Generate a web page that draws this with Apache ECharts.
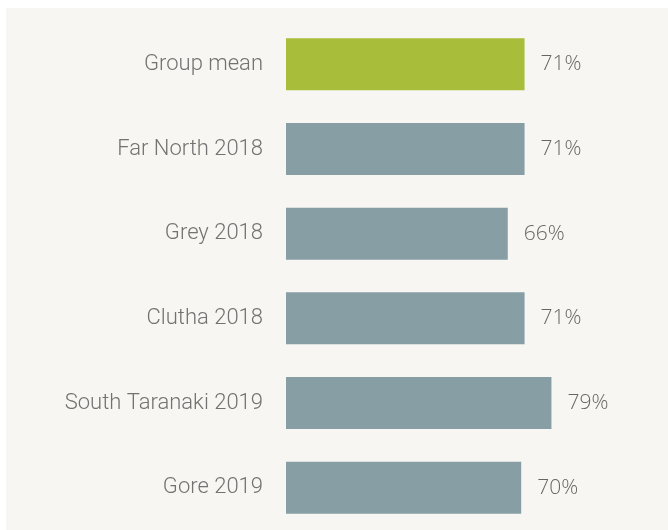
<!DOCTYPE html>
<html>
<head>
<meta charset="utf-8">
<script src="https://cdn.jsdelivr.net/npm/echarts@6/dist/echarts.min.js"></script>
<style>
  html, body { margin: 0; padding: 0; background: #ffffff; }
  #chart { width: 668px; height: 530px; }
</style>
</head>
<body>
<div id="chart"></div>
<script>
// Categories top to bottom
const categories = ['Group mean', 'Far North 2018', 'Grey 2018', 'Clutha 2018', 'South Taranaki 2019', 'Gore 2019'];
// Percent values
const values = [71, 71, 66, 71, 79, 70];
const barColors = ['#a8bd3a', '#879ea4', '#879ea4', '#879ea4', '#879ea4', '#879ea4'];

const chart = echarts.init(document.getElementById('chart'), null, { renderer: 'canvas' });

const option = {
    backgroundColor: '#ffffff',
    animation: false,
    graphic: [{
        type: 'rect',
        z: -10,
        silent: true,
        shape: { x: 6, y: 8, width: 662, height: 522 },
        style: { fill: '#f7f6f2' }
    }],
    grid: { left: 286, width: 336, top: 22, height: 510 },
    xAxis: {
        type: 'value',
        min: 0,
        max: 100,
        show: false,
        splitLine: { show: false }
    },
    yAxis: {
        type: 'category',
        inverse: true,
        data: categories,
        axisLine: { show: false },
        axisTick: { show: false },
        axisLabel: {
            margin: 23,
            color: '#727272',
            fontFamily: 'Roboto',
            fontWeight: 300,
            fontSize: 22
        }
    },
    series: [{
        type: 'bar',
        barWidth: 52,
        data: values.map((v, i) => ({ value: v, itemStyle: { color: barColors[i] } })),
        label: {
            show: true,
            position: 'right',
            distance: 16,
            formatter: '{c}%',
            color: '#666666',
            fontFamily: 'Open Sans',
            fontWeight: 300,
            fontSize: 21
        }
    }]
};

chart.setOption(option);
window.addEventListener('resize', () => chart.resize());
</script>
</body>
</html>
